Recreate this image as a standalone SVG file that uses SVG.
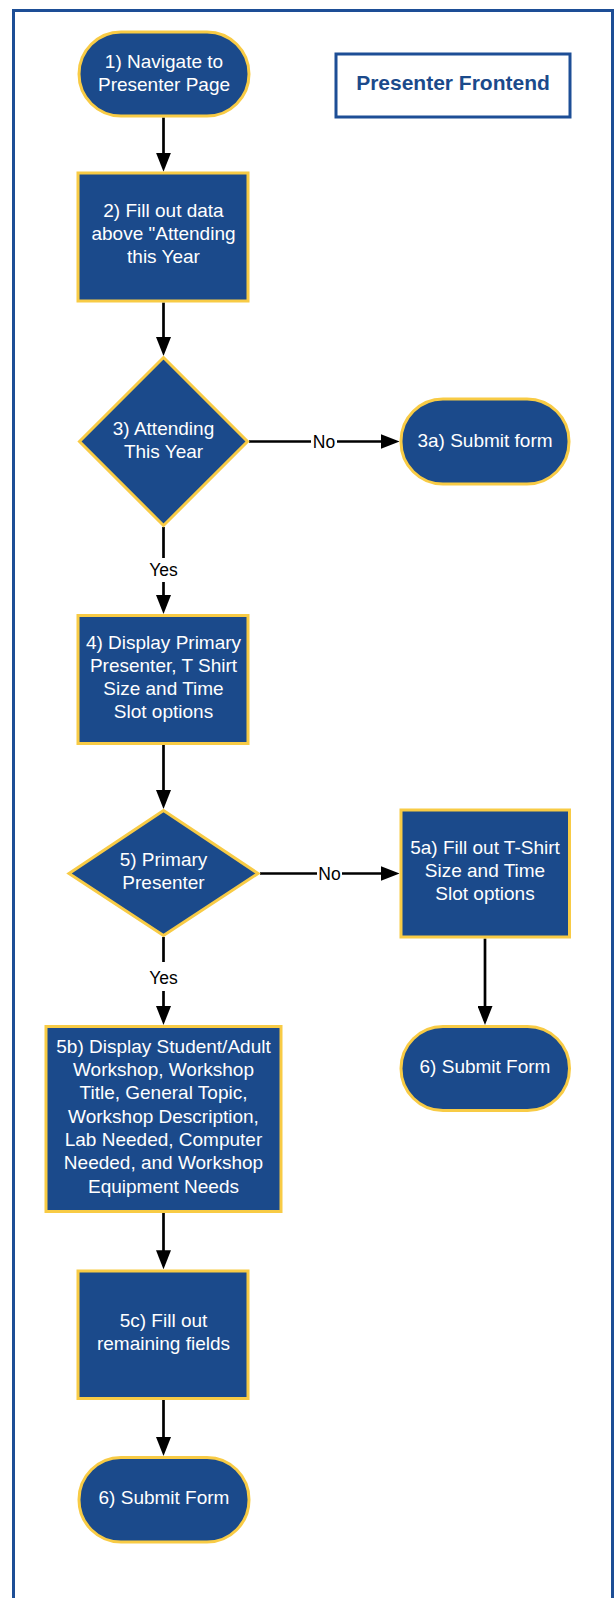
<svg xmlns="http://www.w3.org/2000/svg" width="616" height="1598" viewBox="0 0 616 1598">
  <defs>
    <style>
      .node { fill: #1b4a8b; stroke: #f8cb45; stroke-width: 3; }
      .txt { font-family: "Liberation Sans", Arial, sans-serif; font-size: 19px; fill: #ffffff; text-anchor: middle; }
      .lbl { font-family: "Liberation Sans", Arial, sans-serif; font-size: 17.5px; fill: #000000; text-anchor: middle; }
      .edge { fill: none; stroke: #000000; stroke-width: 2.7; marker-end: url(#arrow); }
      .lblbg { fill: #ffffff; }
    </style>
    <marker id="arrow" markerUnits="userSpaceOnUse" markerWidth="19" markerHeight="15" refX="15" refY="7.5" orient="auto">
      <path d="M0,0 L19,7.5 L0,15 z" fill="#000000"/>
    </marker>
  </defs>

  <rect width="616" height="1598" fill="#ffffff"/>

  <!-- page frame -->
  <rect x="13.5" y="10.5" width="599" height="1600" fill="none" stroke="#1d4e96" stroke-width="3"/>

  <!-- title -->
  <g id="title">
    <rect x="336" y="54" width="234" height="63" fill="#ffffff" stroke="#1d4e96" stroke-width="3"/>
    <text x="453" y="90" font-family="Liberation Sans, Arial, sans-serif" font-size="21" font-weight="bold" fill="#1b4a8b" text-anchor="middle">Presenter Frontend</text>
  </g>

  <!-- connectors -->
  <g id="connectors">
    <line class="edge" x1="163.5" y1="117.5" x2="163.5" y2="167.7"/>
    <line class="edge" x1="163.5" y1="302.5" x2="163.5" y2="352"/>
    <line class="edge" x1="249" y1="441.5" x2="395.6" y2="441.5"/>
    <line class="edge" x1="163.5" y1="527" x2="163.5" y2="610"/>
    <line class="edge" x1="163.5" y1="745" x2="163.5" y2="805"/>
    <line class="edge" x1="260" y1="873.5" x2="395.6" y2="873.5"/>
    <line class="edge" x1="485" y1="938.5" x2="485" y2="1021"/>
    <line class="edge" x1="163.5" y1="937" x2="163.5" y2="1021"/>
    <line class="edge" x1="163.5" y1="1213" x2="163.5" y2="1265.3"/>
    <line class="edge" x1="163.5" y1="1400" x2="163.5" y2="1452"/>

    <!-- branch labels -->
    <rect class="lblbg" x="311" y="432" width="26" height="18"/>
    <text class="lbl" x="324" y="447.5">No</text>
    <rect class="lblbg" x="317" y="864" width="25" height="18"/>
    <text class="lbl" x="329.5" y="879.5">No</text>
    <rect class="lblbg" x="147" y="558" width="33" height="24"/>
    <text class="lbl" x="163.5" y="576">Yes</text>
    <rect class="lblbg" x="147" y="962" width="33" height="29"/>
    <text class="lbl" x="163.5" y="983.5">Yes</text>
  </g>

  <!-- nodes -->
  <g id="n1">
    <rect class="node" x="79" y="32" width="170" height="84" rx="42" ry="42"/>
    <text class="txt" x="164" y="67.5">1) Navigate to</text>
    <text class="txt" x="164" y="90.5">Presenter Page</text>
  </g>

  <g id="n2">
    <rect class="node" x="78" y="173" width="170" height="128"/>
    <text class="txt" x="163.5" y="217">2) Fill out data</text>
    <text class="txt" x="163.5" y="240">above "Attending</text>
    <text class="txt" x="163.5" y="263">this Year</text>
  </g>

  <g id="n3">
    <polygon class="node" points="163.5,357.5 247.5,441.5 163.5,525.5 79.5,441.5"/>
    <text class="txt" x="163.5" y="435">3) Attending</text>
    <text class="txt" x="163.5" y="457.5">This Year</text>
  </g>

  <g id="n3a">
    <rect class="node" x="401" y="399" width="168" height="85" rx="42" ry="42"/>
    <text class="txt" x="485" y="447">3a) Submit form</text>
  </g>

  <g id="n4">
    <rect class="node" x="78" y="615.5" width="170" height="128"/>
    <text class="txt" x="163.5" y="648.5">4) Display Primary</text>
    <text class="txt" x="163.5" y="671.8">Presenter, T Shirt</text>
    <text class="txt" x="163.5" y="695.1">Size and Time</text>
    <text class="txt" x="163.5" y="718.4">Slot options</text>
  </g>

  <g id="n5">
    <polygon class="node" points="163.5,810.5 258,873.5 163.5,935.5 69,873.5"/>
    <text class="txt" x="163.5" y="866">5) Primary</text>
    <text class="txt" x="163.5" y="888.5">Presenter</text>
  </g>

  <g id="n5a">
    <rect class="node" x="401" y="810" width="168.5" height="127"/>
    <text class="txt" x="485" y="853.5">5a) Fill out T-Shirt</text>
    <text class="txt" x="485" y="876.8">Size and Time</text>
    <text class="txt" x="485" y="900.1">Slot options</text>
  </g>

  <g id="n6a">
    <rect class="node" x="401" y="1026.5" width="168.5" height="84" rx="42" ry="42"/>
    <text class="txt" x="485" y="1073">6) Submit Form</text>
  </g>

  <g id="n5b">
    <rect class="node" x="46" y="1026.5" width="235" height="185"/>
    <text class="txt" x="163.5" y="1052.7">5b) Display Student/Adult</text>
    <text class="txt" x="163.5" y="1076">Workshop, Workshop</text>
    <text class="txt" x="163.5" y="1099.3">Title, General Topic,</text>
    <text class="txt" x="163.5" y="1122.6">Workshop Description,</text>
    <text class="txt" x="163.5" y="1145.9">Lab Needed, Computer</text>
    <text class="txt" x="163.5" y="1169.2">Needed, and Workshop</text>
    <text class="txt" x="163.5" y="1192.5">Equipment Needs</text>
  </g>

  <g id="n5c">
    <rect class="node" x="78" y="1271" width="170" height="127.5"/>
    <text class="txt" x="163.5" y="1327">5c) Fill out</text>
    <text class="txt" x="163.5" y="1349.5">remaining fields</text>
  </g>

  <g id="n6b">
    <rect class="node" x="79" y="1457.5" width="170" height="84.5" rx="42" ry="42"/>
    <text class="txt" x="164" y="1504">6) Submit Form</text>
  </g>
</svg>
